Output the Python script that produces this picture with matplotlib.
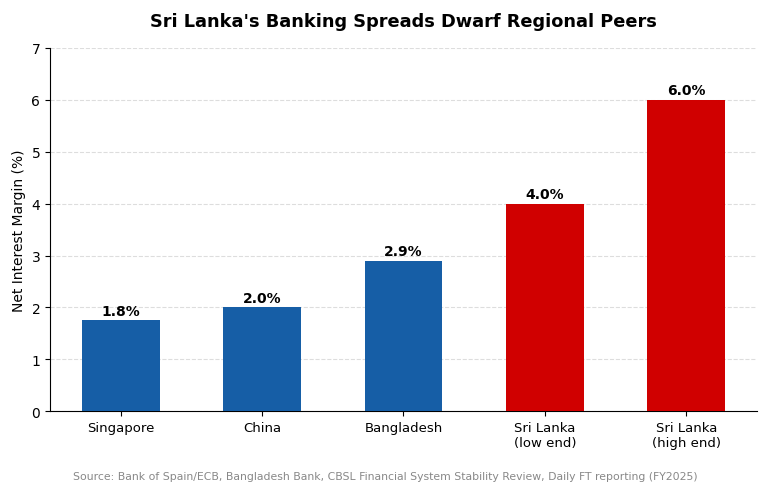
import matplotlib
matplotlib.use("Agg")
import matplotlib.pyplot as plt

countries = ["Singapore", "China", "Bangladesh", "Sri Lanka\n(low end)", "Sri Lanka\n(high end)"]
nim_values = [1.75, 2.0, 2.9, 4.0, 6.0]
value_labels = ["1.8%", "2.0%", "2.9%", "4.0%", "6.0%"]
bar_colors = ["#165ea6", "#165ea6", "#165ea6", "#d00000", "#d00000"]

fig = plt.figure(figsize=(7.7, 4.85), dpi=100)
ax = fig.add_axes([0.065, 0.15, 0.918, 0.749])

x = range(len(countries))
bars = ax.bar(x, nim_values, width=0.55, color=bar_colors, zorder=3)

for bar, label in zip(bars, value_labels):
    ax.text(bar.get_x() + bar.get_width() / 2, bar.get_height() + 0.05, label,
            ha="center", va="bottom", fontsize=10, fontweight="bold")

ax.set_xticks(list(x))
ax.set_xticklabels(countries, fontsize=9.5)
ax.set_xlim(-0.5, 4.5)
ax.set_ylim(0, 7)
ax.set_yticks(range(0, 8))
ax.tick_params(axis="y", labelsize=10)
ax.set_ylabel("Net Interest Margin (%)", fontsize=10)
ax.grid(axis="y", linestyle="--", color="#dddddd", linewidth=0.8, zorder=0)
ax.spines["top"].set_visible(False)
ax.spines["right"].set_visible(False)

ax.set_title("Sri Lanka's Banking Spreads Dwarf Regional Peers",
             fontsize=12.8, fontweight="bold", pad=16)
fig.text(0.5, 0.01, "Source: Bank of Spain/ECB, Bangladesh Bank, CBSL Financial System Stability Review, Daily FT reporting (FY2025)",
         ha="center", fontsize=7.8, color="#888888")

fig.savefig("out.png", dpi=100)
